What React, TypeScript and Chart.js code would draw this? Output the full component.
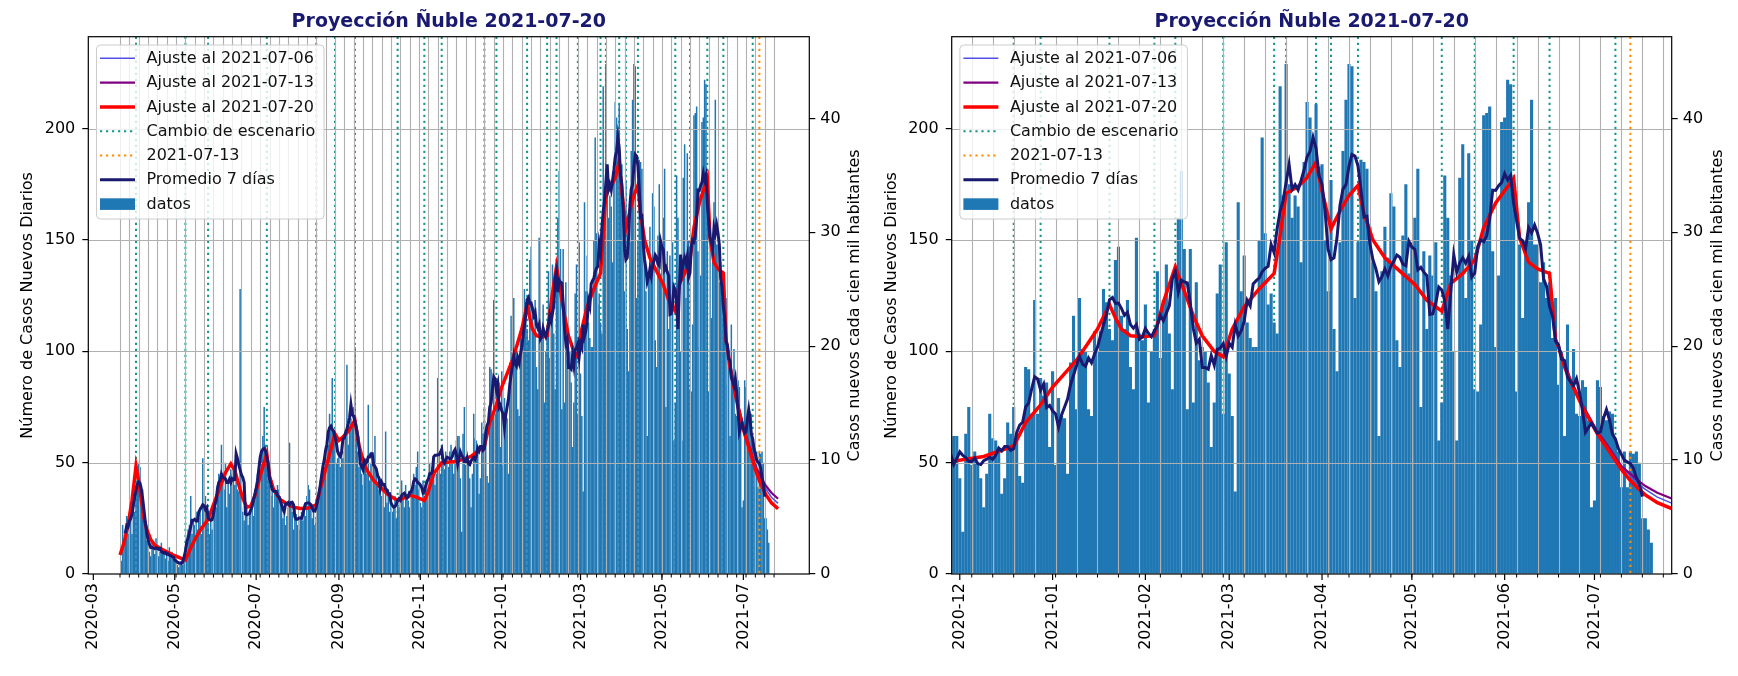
import { useEffect, useRef } from 'react';
import { Chart, registerables } from 'chart.js';
Chart.register(...registerables);

// casos nuevos diarios, Ñuble (cada arreglo empieza en la fecha indicada en MONTHS)
const mar2020 = [6, 22, 14, 20, 26, 18, 22, 30, 18, 32];
const apr2020 = [28, 40, 45, 50, 48, 40, 38, 25, 20, 15, 14, 10, 8, 15, 12, 9, 16, 12, 8, 10, 14, 9, 11, 7, 9, 6, 12, 8, 10, 7];
const may2020 = [6, 6, 4, 3, 5, 6, 4, 7, 4, 8, 20, 22, 35, 18, 24, 22, 28, 20, 25, 30, 18, 52, 30, 35, 28, 22, 18, 24, 20, 25, 32];
const jun2020 = [30, 40, 45, 38, 58, 45, 38, 50, 30, 42, 36, 47, 45, 48, 40, 42, 38, 37, 128, 30, 28, 24, 26, 30, 22, 28, 28, 30, 26, 38];
const jul2020 = [40, 45, 42, 48, 55, 62, 75, 58, 52, 45, 40, 35, 42, 30, 38, 36, 40, 38, 35, 30, 25, 28, 22, 26, 30, 59, 32, 28, 20, 30, 27];
const aug2020 = [22, 20, 25, 28, 24, 30, 26, 35, 40, 38, 30, 25, 28, 22, 25, 30, 38, 42, 45, 50, 48, 55, 60, 58, 72, 65, 88, 62, 60, 50, 52];
const sep2020 = [55, 48, 58, 52, 55, 62, 94, 58, 65, 70, 68, 75, 102, 62, 55, 48, 50, 45, 40, 48, 52, 45, 76, 42, 50, 55, 48, 62, 45, 40];
const oct2020 = [38, 42, 35, 40, 30, 64, 32, 38, 28, 32, 28, 30, 35, 25, 32, 30, 38, 42, 35, 30, 40, 36, 33, 30, 35, 38, 45, 40, 48, 55, 38];
const nov2020 = [32, 30, 42, 35, 40, 38, 42, 50, 45, 48, 52, 40, 45, 88, 55, 45, 50, 52, 47, 55, 52, 48, 55, 58, 50, 45, 54, 60, 62, 62];
const dec2020 = [43, 19, 63, 75, 49, 55, 50, 43, 30, 45, 72, 61, 60, 56, 36, 43, 68, 63, 75, 60, 44, 41, 93, 92, 72, 123, 72, 88, 80, 86, 57];
const jan2021 = [91, 49, 79, 71, 70, 45, 95, 116, 74, 124, 101, 100, 74, 71, 109, 100, 109, 128, 122, 110, 105, 141, 147, 116, 110, 123, 93, 83, 151, 108, 105];
const feb2021 = [121, 77, 100, 110, 136, 97, 123, 139, 108, 83, 134, 160, 181, 146, 74, 146, 77, 131, 96, 102, 100, 86, 57, 77, 126, 139, 72, 149];
const mar2021 = [90, 71, 37, 167, 127, 143, 113, 106, 102, 102, 150, 196, 153, 121, 126, 113, 108, 219, 170, 229, 175, 160, 170, 165, 140, 185, 212, 205, 193, 211, 183];
const apr2021 = [184, 150, 127, 177, 110, 91, 149, 190, 213, 229, 228, 124, 149, 186, 185, 182, 156, 140, 127, 62, 136, 156, 142, 171, 165, 105, 93, 152, 175, 135];
const may2021 = [149, 160, 182, 75, 145, 110, 143, 134, 149, 60, 77, 179, 160, 134, 100, 60, 178, 193, 124, 189, 150, 83, 82, 112, 206, 207, 210, 145, 102, 134, 203];
const jun2021 = [205, 222, 220, 173, 82, 148, 115, 150, 167, 213, 148, 148, 131, 140, 124, 131, 106, 124, 85, 100, 62, 112, 87, 101, 72, 71, 87, 84, 69, 30];
const jul2021 = [33, 87, 84, 71, 69, 73, 72, 61, 55, 39, 55, 39, 55, 54, 55, 50, 25, 25, 20, 14];

const MONTHS: [string, number[]][] = [
  ['2020-03-22', mar2020], ['2020-04-01', apr2020], ['2020-05-01', may2020], ['2020-06-01', jun2020],
  ['2020-07-01', jul2020], ['2020-08-01', aug2020], ['2020-09-01', sep2020], ['2020-10-01', oct2020],
  ['2020-11-01', nov2020], ['2020-12-01', dec2020], ['2021-01-01', jan2021], ['2021-02-01', feb2021],
  ['2021-03-01', mar2021], ['2021-04-01', apr2021], ['2021-05-01', may2021], ['2021-06-01', jun2021],
  ['2021-07-01', jul2021],
];

const SCENARIO_DATES = [
  '2020-04-02', '2020-05-09', '2020-05-26', '2020-07-09', '2020-08-15', '2020-08-29', '2020-09-13',
  '2020-10-15', '2020-11-04', '2020-11-17', '2020-12-19', '2020-12-28', '2021-01-20', '2021-02-04',
  '2021-02-11', '2021-02-27', '2021-03-16', '2021-03-20', '2021-03-30', '2021-04-04', '2021-04-13',
  '2021-05-11', '2021-05-22', '2021-06-04', '2021-06-16', '2021-07-08',
];
const MARK_DATE = '2021-07-13';

// ajuste al 2021-07-20 (curva completa)
const FIT_0720: [string, number][] = [
  ['2020-03-21', 8.5], ['2020-03-24', 14], ['2020-03-27', 22], ['2020-03-30', 33], ['2020-04-02', 48.5],
  ['2020-04-04', 42], ['2020-04-06', 33], ['2020-04-08', 25], ['2020-04-10', 20], ['2020-04-13', 15.5],
  ['2020-04-16', 13], ['2020-04-20', 11.5], ['2020-04-25', 10], ['2020-04-30', 8.5], ['2020-05-05', 7.2],
  ['2020-05-09', 6.3], ['2020-05-11', 9], ['2020-05-14', 13], ['2020-05-17', 16.5], ['2020-05-21', 20.5],
  ['2020-05-26', 24.5], ['2020-05-30', 31], ['2020-06-04', 39], ['2020-06-08', 45.5], ['2020-06-12', 49.5],
  ['2020-06-15', 46.5], ['2020-06-18', 40], ['2020-06-21', 34], ['2020-06-24', 30], ['2020-06-27', 30.5],
  ['2020-06-30', 35], ['2020-07-04', 44], ['2020-07-09', 54], ['2020-07-11', 44], ['2020-07-14', 38],
  ['2020-07-19', 33.5], ['2020-07-24', 31.5], ['2020-07-29', 30], ['2020-08-03', 29.4], ['2020-08-08', 29.5],
  ['2020-08-15', 31], ['2020-08-18', 38], ['2020-08-22', 47], ['2020-08-26', 56], ['2020-08-29', 63],
  ['2020-09-01', 60], ['2020-09-04', 61.5], ['2020-09-08', 64], ['2020-09-13', 69], ['2020-09-16', 58],
  ['2020-09-19', 51], ['2020-09-22', 46.6], ['2020-09-27', 42], ['2020-10-02', 39], ['2020-10-08', 35.5],
  ['2020-10-15', 33], ['2020-10-19', 34], ['2020-10-24', 35.4], ['2020-10-29', 34.5], ['2020-11-04', 33],
  ['2020-11-07', 37], ['2020-11-11', 45], ['2020-11-17', 50], ['2020-11-23', 50.3], ['2020-11-28', 50.5],
  ['2020-12-09', 52.8], ['2020-12-19', 57.5], ['2020-12-23', 68], ['2020-12-28', 76], ['2021-01-01', 84],
  ['2021-01-05', 90], ['2021-01-09', 96], ['2021-01-13', 104], ['2021-01-16', 110], ['2021-01-20', 121],
  ['2021-01-22', 115], ['2021-01-24', 110], ['2021-01-27', 107], ['2021-01-31', 106.5], ['2021-02-04', 107],
  ['2021-02-07', 122], ['2021-02-11', 138], ['2021-02-14', 127], ['2021-02-17', 116], ['2021-02-20', 107],
  ['2021-02-24', 100], ['2021-02-27', 97.5], ['2021-03-02', 110], ['2021-03-06', 120], ['2021-03-11', 128],
  ['2021-03-16', 135], ['2021-03-18', 152], ['2021-03-20', 171], ['2021-03-24', 174], ['2021-03-27', 178],
  ['2021-03-30', 185], ['2021-04-01', 172], ['2021-04-04', 155], ['2021-04-07', 163], ['2021-04-10', 170],
  ['2021-04-13', 174.5], ['2021-04-15', 162], ['2021-04-18', 150], ['2021-04-22', 142], ['2021-04-27', 136],
  ['2021-05-02', 130], ['2021-05-06', 123], ['2021-05-11', 118], ['2021-05-14', 130.5], ['2021-05-18', 135],
  ['2021-05-22', 141], ['2021-05-25', 155.6], ['2021-05-29', 166.6], ['2021-06-04', 177.6], ['2021-06-06', 151],
  ['2021-06-09', 140], ['2021-06-12', 137], ['2021-06-16', 135], ['2021-06-18', 105], ['2021-06-19', 102],
  ['2021-06-21', 93], ['2021-06-23', 86.6], ['2021-06-27', 75], ['2021-07-02', 63], ['2021-07-06', 55],
  ['2021-07-10', 47], ['2021-07-13', 42], ['2021-07-16', 38], ['2021-07-18', 35.5], ['2021-07-22', 32],
  ['2021-07-27', 29.3],
];
// ajustes anteriores: sólo se separan del último en el tramo final
const FIT_0706: [string, number][] = [
  ['2021-06-16', 135], ['2021-06-18', 105.5], ['2021-06-23', 87], ['2021-06-27', 75.5], ['2021-07-02', 63.5],
  ['2021-07-06', 56], ['2021-07-10', 48], ['2021-07-13', 44], ['2021-07-16', 40], ['2021-07-18', 38],
  ['2021-07-22', 34.5], ['2021-07-27', 31.7],
];
const FIT_0713: [string, number][] = [
  ['2021-06-16', 135], ['2021-06-18', 106], ['2021-06-23', 87.5], ['2021-06-27', 76], ['2021-07-02', 64],
  ['2021-07-06', 56.5], ['2021-07-10', 48.5], ['2021-07-13', 45], ['2021-07-16', 41.5], ['2021-07-18', 39.5],
  ['2021-07-22', 36.5], ['2021-07-27', 33.8],
];

const WEEK_FIRST = '2020-03-21';
const WEEK_LAST = '2021-07-24';
const LEFT_TICKS = ['2020-03', '2020-05', '2020-07', '2020-09', '2020-11', '2021-01', '2021-03', '2021-05', '2021-07'];
const RIGHT_TICKS = ['2020-12', '2021-01', '2021-02', '2021-03', '2021-04', '2021-05', '2021-06', '2021-07'];
const Y_TICKS = [0, 50, 100, 150, 200];
const Y2_TICKS = [0, 10, 20, 30, 40];
const Y_MAX = 241.3;
const PER_100K = 5.1155; // casos equivalentes a 1 caso por cien mil habitantes

const TITLE = 'Proyección Ñuble 2021-07-20';
const Y_LABEL = 'Número de Casos Nuevos Diarios';
const Y2_LABEL = 'Casos nuevos cada cien mil habitantes';

const FONT = '"DejaVu Sans", "Liberation Sans", sans-serif';
const BAR = '#1f77b4';
const RED = '#ff0000';
const PURPLE = '#800080';
const BLUE = '#5050e6';
const NAVY = '#191970';
const TEAL = '#14968a';
const ORANGE = '#ff8c00';
const GRID = '#b0b0b0';

const LEGEND = [
  { label: 'Ajuste al 2021-07-06', kind: 'line', color: BLUE, width: 1.5 },
  { label: 'Ajuste al 2021-07-13', kind: 'line', color: PURPLE, width: 2.2 },
  { label: 'Ajuste al 2021-07-20', kind: 'line', color: RED, width: 3.5 },
  { label: 'Cambio de escenario', kind: 'dot', color: TEAL, width: 2 },
  { label: '2021-07-13', kind: 'dot', color: ORANGE, width: 2 },
  { label: 'Promedio 7 días', kind: 'line', color: NAVY, width: 3 },
  { label: 'datos', kind: 'box', color: BAR, width: 0 },
];

const DAY0 = Date.UTC(2020, 2, 1);
function dayOf(s: string): number {
  const [y, m, d] = s.split('-').map(Number);
  return Math.round((Date.UTC(y, m - 1, d || 1) - DAY0) / 86400000);
}

const daily = MONTHS.flatMap(([start, vals]) => vals.map((v, i) => ({ x: dayOf(start) + i, y: v })));
const avg7: { x: number; y: number }[] = [];
for (let i = 3; i < daily.length - 3; i++) {
  let s = 0;
  for (let k = -3; k <= 3; k++) s += daily[i + k].y;
  avg7.push({ x: daily[i].x, y: s / 7 });
}
const toPts = (arr: [string, number][]) => arr.map(([d, v]) => ({ x: dayOf(d), y: v }));
const weekly: number[] = [];
for (let t = dayOf(WEEK_FIRST); t <= dayOf(WEEK_LAST); t += 7) weekly.push(t);

interface PanelSpec {
  xMin: number;
  xMax: number;
  leftW: number;
  rightW: number;
  months: string[];
  barPx: number;
}

const LEFT_SPEC: PanelSpec = { xMin: -3.75, xMax: 536.4, leftW: 88.3, rightW: 59.7, months: LEFT_TICKS, barPx: 1.5 };
const RIGHT_SPEC: PanelSpec = { xMin: 272.3, xMax: 512.8, leftW: 82.7, rightW: 66.3, months: RIGHT_TICKS, barPx: 3.1 };

function vline(ctx: CanvasRenderingContext2D, px: number, a: any) {
  if (px < a.left - 1 || px > a.right + 1) return;
  ctx.beginPath();
  ctx.moveTo(px, a.top);
  ctx.lineTo(px, a.bottom);
  ctx.stroke();
}

function makeOverlay(spec: PanelSpec) {
  const monthTs = spec.months.map(dayOf);
  return {
    id: 'overlay',
    beforeDatasetsDraw(chart: any) {
      const { ctx, chartArea: a, scales } = chart;
      ctx.save();
      ctx.beginPath();
      ctx.rect(a.left, a.top, a.right - a.left, a.bottom - a.top);
      ctx.clip();
      ctx.strokeStyle = TEAL;
      ctx.lineWidth = 2;
      ctx.setLineDash([2.2, 3.8]);
      for (const d of SCENARIO_DATES) vline(ctx, scales.x.getPixelForValue(dayOf(d)), a);
      ctx.restore();
    },
    afterDatasetDraw(chart: any, args: any) {
      if (args.index !== 0) return;
      const { ctx, chartArea: a, scales } = chart;
      ctx.save();
      ctx.beginPath();
      ctx.rect(a.left, a.top, a.right - a.left, a.bottom - a.top);
      ctx.clip();
      ctx.strokeStyle = GRID;
      ctx.lineWidth = 1.1;
      for (const t of weekly) vline(ctx, Math.round(scales.x.getPixelForValue(t)) + 0.5, a);
      for (const v of Y_TICKS.slice(1)) {
        const py = Math.round(scales.y.getPixelForValue(v)) + 0.5;
        ctx.beginPath();
        ctx.moveTo(a.left, py);
        ctx.lineTo(a.right, py);
        ctx.stroke();
      }
      ctx.strokeStyle = ORANGE;
      ctx.lineWidth = 2;
      ctx.setLineDash([2.2, 3.8]);
      vline(ctx, scales.x.getPixelForValue(dayOf(MARK_DATE)), a);
      ctx.restore();
    },
    afterDraw(chart: any) {
      const { ctx, chartArea: a, scales } = chart;
      ctx.save();
      // marcas del eje x
      ctx.strokeStyle = '#000';
      ctx.lineWidth = 1;
      for (const t of weekly) {
        const px = scales.x.getPixelForValue(t);
        if (px < a.left || px > a.right) continue;
        ctx.beginPath();
        ctx.moveTo(px, a.bottom);
        ctx.lineTo(px, a.bottom + 3.5);
        ctx.stroke();
      }
      ctx.lineWidth = 1.2;
      for (const t of monthTs) {
        const px = scales.x.getPixelForValue(t);
        ctx.beginPath();
        ctx.moveTo(px, a.bottom);
        ctx.lineTo(px, a.bottom + 6);
        ctx.stroke();
      }
      ctx.strokeRect(a.left, a.top, a.right - a.left, a.bottom - a.top);

      // título
      ctx.fillStyle = NAVY;
      ctx.font = `bold 19px ${FONT}`;
      ctx.textAlign = 'center';
      ctx.textBaseline = 'alphabetic';
      ctx.fillText(TITLE, (a.left + a.right) / 2, 26.7);

      // títulos de ejes
      const cy = (a.top + a.bottom) / 2;
      ctx.fillStyle = '#000';
      ctx.font = `16px ${FONT}`;
      ctx.textBaseline = 'middle';
      for (const [text, cx] of [[Y_LABEL, a.left - 60], [Y2_LABEL, a.right + 46]] as [string, number][]) {
        ctx.save();
        ctx.translate(cx, cy);
        ctx.rotate(-Math.PI / 2);
        ctx.fillText(text, 0, 0);
        ctx.restore();
      }

      // leyenda
      const lx = a.left + 8.2;
      const ly = a.top + 8.3;
      ctx.beginPath();
      if ((ctx as any).roundRect) (ctx as any).roundRect(lx, ly, 227.5, 174, 4);
      else ctx.rect(lx, ly, 227.5, 174);
      ctx.fillStyle = 'rgba(255,255,255,0.8)';
      ctx.fill();
      ctx.strokeStyle = '#cccccc';
      ctx.lineWidth = 1;
      ctx.stroke();
      ctx.textAlign = 'left';
      LEGEND.forEach((item, i) => {
        const ry = ly + 13.3 + i * 24.3;
        const h0 = lx + 3.5;
        const h1 = lx + 38.5;
        if (item.kind === 'box') {
          ctx.fillStyle = item.color;
          ctx.fillRect(h0, ry - 5.8, h1 - h0, 11.6);
        } else {
          ctx.strokeStyle = item.color;
          ctx.lineWidth = item.width;
          ctx.setLineDash(item.kind === 'dot' ? [2.2, 3.8] : []);
          ctx.beginPath();
          ctx.moveTo(h0, ry);
          ctx.lineTo(h1, ry);
          ctx.stroke();
          ctx.setLineDash([]);
        }
        ctx.fillStyle = '#111';
        ctx.fillText(item.label, lx + 50, ry + 0.5);
      });
      ctx.restore();
    },
  };
}

function Panel({ spec }: { spec: PanelSpec }) {
  const canvasRef = useRef<HTMLCanvasElement>(null);

  useEffect(() => {
    if (!canvasRef.current) return;
    const labels = new Map(spec.months.map((m) => [dayOf(m), m]));
    const tickValues = Array.from(new Set([...weekly, ...spec.months.map(dayOf)]))
      .filter((t) => t >= spec.xMin && t <= spec.xMax)
      .sort((p, q) => p - q);
    const tickFont = { family: FONT, size: 16 };
    const line = (data: any[], color: string, width: number, order: number) => ({
      type: 'line' as const,
      data,
      borderColor: color,
      borderWidth: width,
      pointRadius: 0,
      tension: 0,
      fill: false,
      order,
    });

    const chart = new Chart(canvasRef.current, {
      type: 'bar',
      data: {
        datasets: [
          {
            type: 'bar',
            data: daily as any,
            backgroundColor: BAR,
            borderWidth: 0,
            barThickness: spec.barPx,
            inflateAmount: 0,
            order: 10,
          } as any,
          line(toPts(FIT_0706), BLUE, 1.5, 5),
          line(toPts(FIT_0713), PURPLE, 2.2, 4),
          line(toPts(FIT_0720), RED, 3.5, 3),
          line(avg7, NAVY, 3, 1),
        ],
      },
      options: {
        responsive: false,
        animation: false,
        devicePixelRatio: 1,
        layout: { padding: { top: 36.7, left: 0, right: 0, bottom: 0 } },
        plugins: { legend: { display: false }, tooltip: { enabled: false }, title: { display: false } },
        scales: {
          x: {
            type: 'linear',
            min: spec.xMin,
            max: spec.xMax,
            offset: false,
            grid: { display: false, drawTicks: true, tickLength: 6 },
            border: { display: false },
            afterBuildTicks: (s: any) => {
              s.ticks = tickValues.map((value) => ({ value }));
            },
            afterFit: (s: any) => {
              s.height = 102;
            },
            ticks: {
              autoSkip: false,
              minRotation: 90,
              maxRotation: 90,
              padding: 3,
              color: '#000',
              font: tickFont,
              callback: (v: any) => labels.get(Number(v)) ?? '',
            },
          },
          y: {
            type: 'linear',
            position: 'left',
            min: 0,
            max: Y_MAX,
            afterBuildTicks: (s: any) => {
              s.ticks = Y_TICKS.map((value) => ({ value }));
            },
            afterFit: (s: any) => {
              s.width = spec.leftW;
            },
            grid: { drawOnChartArea: false, drawTicks: true, tickLength: 6, color: '#000', lineWidth: 1.2 },
            border: { display: false },
            ticks: { padding: 7, color: '#000', font: tickFont },
          },
          y2: {
            type: 'linear',
            position: 'right',
            min: 0,
            max: Y_MAX / PER_100K,
            afterBuildTicks: (s: any) => {
              s.ticks = Y2_TICKS.map((value) => ({ value }));
            },
            afterFit: (s: any) => {
              s.width = spec.rightW;
            },
            grid: { drawOnChartArea: false, drawTicks: true, tickLength: 6, color: '#000', lineWidth: 1.2 },
            border: { display: false },
            ticks: { padding: 5, color: '#000', font: tickFont },
          },
        },
      } as any,
      plugins: [makeOverlay(spec) as any],
    });

    return () => {
      chart.destroy();
    };
  }, [spec]);

  return <canvas ref={canvasRef} width={869} height={676} style={{ display: 'block' }} />;
}

export default function App() {
  return (
    <div style={{ position: 'fixed', left: 0, top: 0, width: 1738, height: 676, background: '#fff', display: 'flex' }}>
      <Panel spec={LEFT_SPEC} />
      <Panel spec={RIGHT_SPEC} />
    </div>
  );
}
